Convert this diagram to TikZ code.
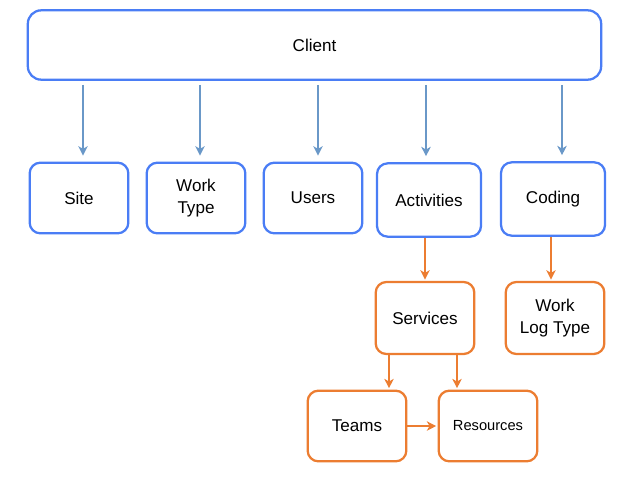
\documentclass[tikz,border=0pt]{standalone}
\usepackage{fontspec}
\setmainfont{Liberation Sans}
\usetikzlibrary{arrows.meta}
\definecolor{boxblue}{HTML}{4A7DF5}
\definecolor{arrblue}{HTML}{6A98C8}
\definecolor{boxorange}{HTML}{EC7D31}
\begin{document}
\begin{tikzpicture}[x=0.75pt,y=-0.75pt,font=\fontsize{12.8}{16}\selectfont,
  box/.style={line width=1.7pt,rounded corners=8pt,fill=white,align=center,
    inner sep=2pt,minimum width=74pt,minimum height=53pt},
  bluebox/.style={box,draw=boxblue},
  orangebox/.style={box,draw=boxorange},
  bluearr/.style={draw=arrblue,line width=1.1pt,-{Stealth[length=7pt,width=7pt,inset=2pt]},
    shorten <=3pt,shorten >=4.5pt},
  orangearr/.style={draw=boxorange,line width=1.1pt,-{Stealth[length=7pt,width=7pt,inset=2pt]},
    shorten >=1pt}]
\useasboundingbox (0,0) rectangle (617,476);
\node[bluebox,minimum width=430pt,minimum height=52pt,rounded corners=10pt] (client) at (314.5,45) {Client};
\node[bluebox] (site) at (79,198) {Site};
\node[bluebox] (worktype) at (196,198) {Work\\Type};
\node[bluebox] (users) at (313,198) {Users};
\node[bluebox,minimum width=78pt,minimum height=55pt] (activities) at (429,200) {Activities};
\node[bluebox,minimum width=78pt,minimum height=55pt] (coding) at (553,199) {Coding};
\node[orangebox,minimum height=54pt] (services) at (425,318) {Services};
\node[orangebox,minimum height=54pt] (worklog) at (555,318) {Work\\Log Type};
\node[orangebox] (teams) at (357,426) {Teams};
\node[orangebox,font=\fontsize{11}{13}\selectfont] (resources) at (488,426) {Resources};
\draw[bluearr] (client.south -| 83,0) -- (site.north -| 83,0);
\draw[bluearr] (client.south -| 200,0) -- (worktype.north -| 200,0);
\draw[bluearr] (client.south -| 318,0) -- (users.north -| 318,0);
\draw[bluearr] (client.south -| 426,0) -- (activities.north -| 426,0);
\draw[bluearr] (client.south -| 562,0) -- (coding.north -| 562,0);
\draw[orangearr] (activities.south -| 425,0) -- (services.north -| 425,0);
\draw[orangearr] (coding.south -| 551,0) -- (worklog.north -| 551,0);
\draw[orangearr] (services.south -| 389,0) -- (teams.north -| 389,0);
\draw[orangearr] (services.south -| 457,0) -- (resources.north -| 457,0);
\draw[orangearr] (teams.east) -- (resources.west);
\end{tikzpicture}
\end{document}
